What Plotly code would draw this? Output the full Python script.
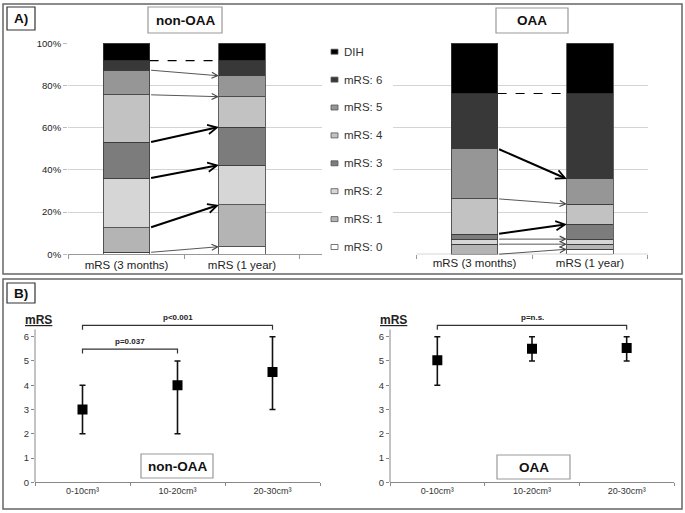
import plotly.graph_objects as go
from itertools import accumulate

# ---------------- data ----------------
LEVELS = ["mRS: 0", "mRS: 1", "mRS: 2", "mRS: 3", "mRS: 4", "mRS: 5", "mRS: 6", "DIH"]
COLORS = ["#ffffff", "#b4b4b4", "#d6d6d6", "#7c7c7c", "#c2c2c2", "#969696", "#383838", "#000000"]
TIMEPOINTS = ["mRS (3 months)", "mRS (1 year)"]

NON_3M = [0.9, 11.7, 23.4, 17.1, 22.5, 11.7, 4.5, 8.2]
NON_1Y = [3.6, 19.8, 18.9, 18.0, 14.4, 9.9, 7.2, 8.2]
OAA_3M = [0.0, 4.8, 2.4, 2.4, 16.7, 23.8, 26.1, 23.8]
OAA_1Y = [2.4, 2.4, 2.4, 7.1, 9.5, 11.9, 40.5, 23.8]

NON_ARROWS = ["thin", "thick", "thick", "thick", "thin", "thin", "dash"]
OAA_ARROWS = ["thin", "thin", "thin", "thick", "thin", "thick", "dash"]

VOLUMES = ["0-10cm³", "10-20cm³", "20-30cm³"]
NON_MED = [3.0, 4.0, 4.55]
NON_LO = [2, 2, 3]
NON_HI = [4, 5, 6]
OAA_MED = [5.03, 5.5, 5.53]
OAA_LO = [4, 5, 5]
OAA_HI = [6, 6, 6]

NON_P = [("p<0.001", 0, 2), ("p=0.037", 0, 1)]
OAA_P = [("p=n.s.", 0, 2)]

# ---------------- layout helpers ----------------
W, H = 685, 513
FONT = "Arial, Liberation Sans, sans-serif"
BAR_W = 0.4
BRACKET_Y = {"p<0.001": 6.47, "p=0.037": 5.49, "p=n.s.": 6.47}
LEG = 0.18


def px(x):
    return x / W


def py(y):
    return 1 - y / H


fig = go.Figure()

# ---------------- Panel A bars ----------------
for xa, ya, d3, d1 in [("x", "y", NON_3M, NON_1Y), ("x2", "y2", OAA_3M, OAA_1Y)]:
    for i, lev in enumerate(LEVELS):
        fig.add_trace(go.Bar(
            x=TIMEPOINTS, y=[d3[i], d1[i]], name=lev, width=BAR_W,
            marker=dict(color=COLORS[i], line=dict(color="#3a3a3a", width=0.8)),
            xaxis=xa, yaxis=ya, showlegend=False, hoverinfo="skip"))

annotations = []
shapes = []

# arrows between cumulative boundaries
for xa, ya, d3, d1, styles in [("x", "y", NON_3M, NON_1Y, NON_ARROWS),
                               ("x2", "y2", OAA_3M, OAA_1Y, OAA_ARROWS)]:
    c3 = list(accumulate(d3))
    c1 = list(accumulate(d1))
    for k, st in enumerate(styles):
        if st == "dash":
            shapes.append(dict(type="line", xref=xa, yref=ya,
                               x0=BAR_W / 2, x1=1 - BAR_W / 2, y0=c3[k], y1=c1[k],
                               line=dict(color="#000", width=1.2, dash="dash")))
        else:
            thick = st == "thick"
            annotations.append(dict(
                xref=xa, yref=ya, axref=xa, ayref=ya,
                x=1 - BAR_W / 2, y=c1[k], ax=BAR_W / 2, ay=c3[k], text="",
                showarrow=True, arrowhead=5,
                arrowsize=0.9 if thick else 1.3,
                arrowwidth=2 if thick else 0.9,
                arrowcolor="#000" if thick else "#444",
                standoff=0, startstandoff=0))

axis_font = dict(family=FONT, size=11.5, color="#222")
fig.update_layout(
    xaxis=dict(domain=[px(68), px(322)], type="category", categoryorder="array",
               categoryarray=TIMEPOINTS, range=[-0.5065, 1.6926], tickson="boundaries",
               ticks="outside", ticklen=4, tickcolor="#999", showline=True,
               linecolor="#999", linewidth=1, showgrid=False, tickfont=axis_font,
               automargin=False, anchor="y"),
    yaxis=dict(domain=[py(254.3), py(43.3)], range=[0, 100], dtick=20, ticksuffix="%",
               showgrid=True, gridcolor="#d4d4d4", gridwidth=1, zeroline=False,
               ticks="outside", ticklen=4, tickcolor="#bbb", automargin=False,
               tickfont=dict(family=FONT, size=9.5, color="#222"), anchor="x"),
    xaxis2=dict(domain=[px(393), px(648)], type="category", categoryorder="array",
                categoryarray=TIMEPOINTS, range=[-0.7056, 1.5022], tickson="boundaries",
                ticks="outside", ticklen=4, tickcolor="#999", showline=False,
                showgrid=False, tickfont=axis_font, anchor="y2", automargin=False),
    yaxis2=dict(domain=[py(254.3), py(43.3)], range=[0, 100], dtick=20,
                showgrid=True, gridcolor="#d4d4d4", gridwidth=1, zeroline=False,
                showticklabels=False, anchor="x2", automargin=False),
)
shapes.append(dict(type="line", xref="x2", yref="y2", x0=-0.5, x1=1.5022, y0=0, y1=0,
                   line=dict(color="#999", width=1)))

# legend (manual)
for i, lev in enumerate(LEVELS):
    row = len(LEVELS) - 1 - i
    yc = 51.7 + row * 27.9
    shapes.append(dict(type="rect", xref="paper", yref="paper",
                       x0=px(331), x1=px(338), y0=py(yc + 2.5), y1=py(yc - 2.5),
                       fillcolor=COLORS[i], line=dict(color="#555", width=0.8)))
    annotations.append(dict(xref="paper", yref="paper", x=px(342), y=py(yc),
                            xanchor="left", yanchor="middle", text=lev, showarrow=False,
                            font=dict(family=FONT, size=11.5, color="#333")))

# ---------------- Panel B ----------------
for xa, ya, med, lo, hi in [("x3", "y3", NON_MED, NON_LO, NON_HI),
                            ("x4", "y4", OAA_MED, OAA_LO, OAA_HI)]:
    fig.add_trace(go.Scatter(
        x=VOLUMES, y=med, mode="markers", xaxis=xa, yaxis=ya, showlegend=False,
        marker=dict(symbol="square", size=10, color="#000"),
        error_y=dict(type="data", symmetric=False,
                     array=[h - m for h, m in zip(hi, med)],
                     arrayminus=[m - l for m, l in zip(med, lo)],
                     color="#111", thickness=1.6, width=3)))

b_yrange = [0, 6.8]
for xa, ya, dom in [("xaxis3", "yaxis3", [px(35), px(320)]),
                    ("xaxis4", "yaxis4", [px(390), px(674)])]:
    fig.layout[xa] = dict(domain=dom, type="category", categoryorder="array",
                          categoryarray=VOLUMES, range=[-0.5, 2.5], tickson="boundaries",
                          ticks="outside", ticklen=3, tickcolor="#888", showline=True,
                          linecolor="#888", linewidth=1, showgrid=False, automargin=False,
                          tickfont=dict(family=FONT, size=9, color="#333"),
                          anchor=ya.replace("axis", ""))
    fig.layout[ya] = dict(domain=[py(482.3), py(317.3)], range=b_yrange, tickvals=list(range(7)),
                          showgrid=False, zeroline=False, showline=False, automargin=False,
                          ticks="outside", ticklen=3, tickcolor="#888",
                          tickfont=dict(family=FONT, size=9.5, color="#333"),
                          anchor=xa.replace("axis", ""))

for xa, ya, plist, mx in [("x3", "y3", NON_P, 35), ("x4", "y4", OAA_P, 390)]:
    shapes.append(dict(type="line", xref=xa + " domain", yref=ya, x0=0, x1=0, y0=0, y1=6.3,
                       line=dict(color="#888", width=1)))
    for label, a, b in plist:
        yb = BRACKET_Y[label]
        shapes.append(dict(type="path", xref=xa, yref=ya,
                           path=f"M {a},{yb - LEG} L {a},{yb} L {b},{yb} L {b},{yb - LEG}",
                           line=dict(color="#333", width=1.2)))
        annotations.append(dict(xref=xa, yref=ya, x=(a + b) / 2, y=yb + 0.05,
                                yanchor="bottom", text=f"<b>{label}</b>", showarrow=False,
                                font=dict(family=FONT, size=8, color="#222")))
    annotations.append(dict(xref="paper", yref="paper", x=px(mx - 12), y=py(320),
                            xanchor="left", yanchor="middle", text="<b><u>mRS</u></b>",
                            showarrow=False, font=dict(family=FONT, size=12, color="#222")))

# ---------------- frames & boxed labels ----------------
shapes.append(dict(type="rect", xref="paper", yref="paper", x0=px(3), x1=px(682),
                   y0=py(274), y1=py(4), line=dict(color="#666", width=1.5)))
shapes.append(dict(type="rect", xref="paper", yref="paper", x0=px(3), x1=px(682),
                   y0=py(509), y1=py(279), line=dict(color="#666", width=1.5)))

boxes = [("A)", 7, 35, 7, 30, "#333"), ("non-OAA", 148, 222, 7, 33, "#999"),
         ("OAA", 496, 568, 8, 33, "#999"), ("B)", 7, 35, 283, 303, "#333"),
         ("non-OAA", 141, 213, 454, 478, "#999"), ("OAA", 497, 570, 455, 479, "#999")]
for txt, x0, x1, y0, y1, lc in boxes:
    shapes.append(dict(type="rect", xref="paper", yref="paper", x0=px(x0), x1=px(x1),
                       y0=py(y1), y1=py(y0), fillcolor="#fff",
                       line=dict(color=lc, width=1.2)))
    annotations.append(dict(xref="paper", yref="paper", x=px((x0 + x1) / 2),
                            y=py((y0 + y1) / 2), text=f"<b>{txt}</b>", showarrow=False,
                            xanchor="center", yanchor="middle",
                            font=dict(family=FONT, size=13.5, color="#111")))

fig.update_layout(
    width=W, height=H, margin=dict(l=0, r=0, t=0, b=0, autoexpand=False),
    paper_bgcolor="#fff", plot_bgcolor="#fff", barmode="stack", bargap=0,
    showlegend=False, shapes=shapes, annotations=annotations,
    font=dict(family=FONT), hovermode=False,
)

fig.write_html(
    "out.html",
    config={"displayModeBar": False, "staticPlot": True},
    post_script="document.body.style.margin='0';document.body.style.padding='0';"
                "document.body.style.overflow='hidden';",
)
